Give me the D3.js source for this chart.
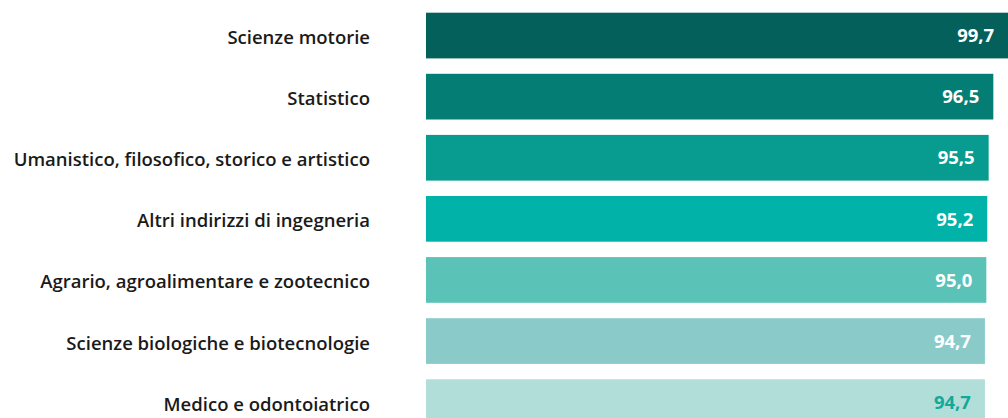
<!DOCTYPE html>
<html>
<head>
<meta charset="utf-8">
<script src="https://cdn.jsdelivr.net/npm/d3@7/dist/d3.min.js"></script>
<style>
  html, body { margin: 0; padding: 0; background: #fff; overflow: hidden; }
  svg { display: block; }
</style>
</head>
<body>
<svg id="chart" width="1008" height="418"></svg>
<script>
const categories = [
  "Scienze motorie",
  "Statistico",
  "Umanistico, filosofico, storico e artistico",
  "Altri indirizzi di ingegneria",
  "Agrario, agroalimentare e zootecnico",
  "Scienze biologiche e biotecnologie",
  "Medico e odontoiatrico"
];
const values = [99.7, 96.5, 95.5, 95.2, 95.0, 94.7, 94.7];
const valueLabels = ["99,7", "96,5", "95,5", "95,2", "95,0", "94,7", "94,7"];
const barColors = ["#03605a", "#047e75", "#079c8f", "#00b2a8", "#5ac2b6", "#8acbca", "#b2ded9"];
const labelColors = ["#ffffff", "#ffffff", "#ffffff", "#ffffff", "#ffffff", "#ffffff", "#12a89a"];

const svg = d3.select("#chart");

const x = d3.scaleLinear().domain([-25.4, 100]).range([426, 1009.6]);
const y = d3.scaleBand().domain(categories).range([5, 432.7]).paddingInner(0.252).paddingOuter(0.126);
const x0 = x(x.domain()[0]);

const rows = svg.selectAll("g.row")
  .data(categories.map((c, i) => ({ c, v: values[i], lab: valueLabels[i], col: barColors[i], tcol: labelColors[i] })))
  .join("g").attr("class", "row");

rows.append("rect")
  .attr("x", x0)
  .attr("y", d => y(d.c))
  .attr("width", d => x(d.v) - x0)
  .attr("height", y.bandwidth())
  .attr("fill", d => d.col);

rows.append("text")
  .attr("x", d => x(d.v) - 14)
  .attr("y", d => y(d.c) + y.bandwidth() / 2)
  .attr("dy", "0.36em")
  .attr("text-anchor", "end")
  .attr("font-family", "'Open Sans', sans-serif")
  .attr("font-weight", 700)
  .attr("font-size", 18.5)
  .attr("fill", d => d.tcol)
  .text(d => d.lab);

rows.append("text")
  .attr("x", 370)
  .attr("y", d => y(d.c) + y.bandwidth() / 2 + 2)
  .attr("dy", "0.35em")
  .attr("text-anchor", "end")
  .attr("font-family", "'Open Sans', sans-serif")
  .attr("font-weight", 600)
  .attr("font-size", 18.5)
  .attr("fill", "#1a1a1a")
  .text(d => d.c);
</script>
</body>
</html>
